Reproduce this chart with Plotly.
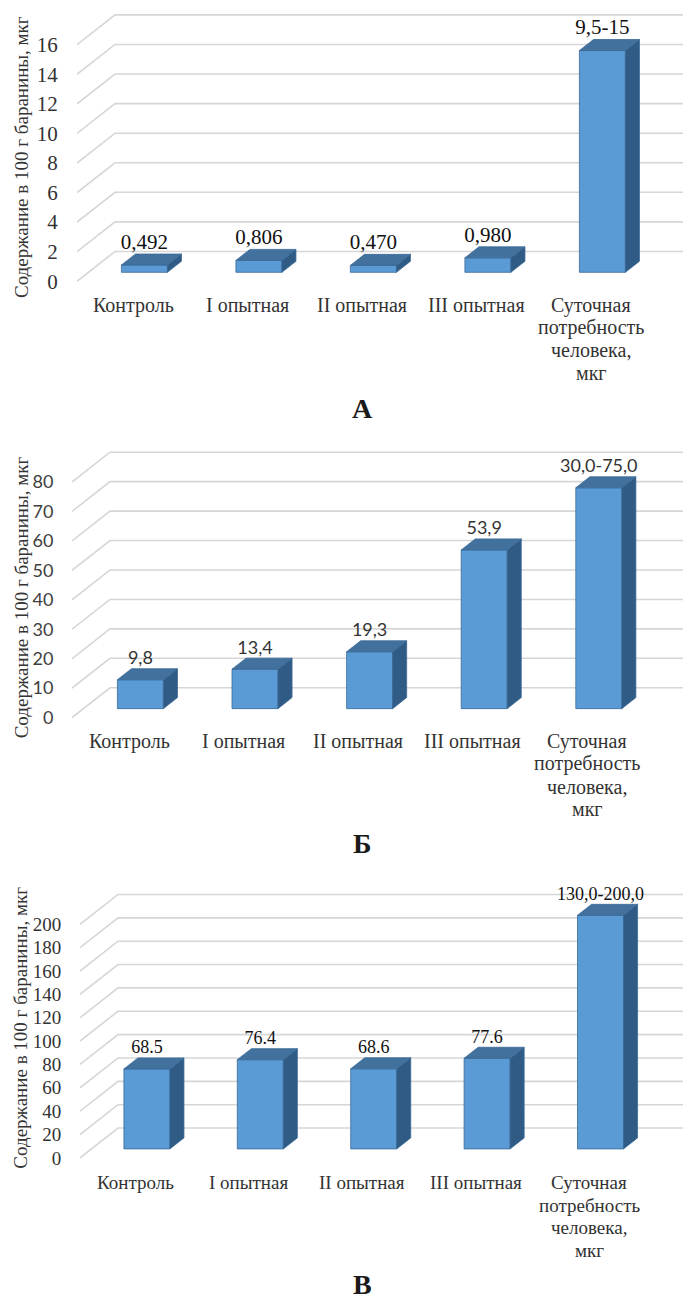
import plotly.graph_objects as go

# ---- data ----
categories = [["Контроль"], ["I опытная"], ["II опытная"], ["III опытная"],
              ["Суточная", "потребность", "человека,", "мкг"]]

values_a = [0.492, 0.806, 0.470, 0.980, 15.0]
labels_a = ["0,492", "0,806", "0,470", "0,980", "9,5-15"]
ticks_a = [0, 2, 4, 6, 8, 10, 12, 14, 16]

values_b = [9.8, 13.4, 19.3, 53.9, 75.0]
labels_b = ["9,8", "13,4", "19,3", "53,9", "30,0-75,0"]
ticks_b = [0, 10, 20, 30, 40, 50, 60, 70, 80]

values_c = [68.5, 76.4, 68.6, 77.6, 200.0]
labels_c = ["68.5", "76.4", "68.6", "77.6", "130,0-200,0"]
ticks_c = [0, 20, 40, 60, 80, 100, 120, 140, 160, 180, 200]

panel_titles = ["А", "Б", "В"]
axis_title = "Содержание в 100 г баранины, мкг"

# ---- page geometry (pixels) ----
W, H = 686, 1306
DEPTH_X, DEPTH_Y = 38, 30          # back wall offset
BAR_FRONT, BAR_BACK = 0.30, 0.67   # bar depth position as fraction of wall depth
BAR_W = 46
GRID_RIGHT = 683
CAT_LINE = 22.7                    # line pitch of category captions

FRONT = "#5B9BD5"
TOP = "#41719C"
SIDE = "#2F5B85"
EDGE = "#3A6A98"
GRID = "#D6D6D6"
SERIF = "Liberation Serif, Times New Roman, serif"
SANS = "Lato, Carlito, Calibri, sans-serif"

panels = [
    dict(values=values_a, labels=labels_a, ticks=ticks_a, y0=283, ytop=45, x_left=77,
         c0=133, sp=114.5, tick_font=dict(family=SERIF, size=21, color="#333333"),
         val_font=dict(family=SERIF, size=21, color="#111111"),
         cat_size=20, cat_dy=24, title_y=411, axis_title_y=158),
    dict(values=values_b, labels=labels_b, ticks=ticks_b, y0=722, ytop=485, x_left=72,
         c0=129, sp=114.6, tick_font=dict(family=SANS, size=18, color="#404040"),
         val_font=dict(family=SANS, size=18, color="#333333"),
         cat_size=20, cat_dy=24, title_y=849, axis_title_y=601),
    dict(values=values_c, labels=labels_c, ticks=ticks_c, y0=1165, ytop=930, x_left=80,
         c0=135.5, sp=113.4, tick_font=dict(family=SERIF, size=19, color="#333333"),
         val_font=dict(family=SERIF, size=18, color="#111111"),
         cat_size=19, cat_dy=25, title_y=1292, axis_title_y=1034),
]

fig = go.Figure()
layout = {}
annotations = []

for k, p in enumerate(panels):
    sfx = "" if k == 0 else str(k + 1)
    xa, ya = "x" + sfx, "y" + sfx
    s = (p["y0"] - p["ytop"]) / p["ticks"][-1]     # px per unit
    sp = p["sp"]
    dx, dy = DEPTH_X / sp, DEPTH_Y / s             # wall depth in data units
    x_lo = (p["x_left"] - p["c0"]) / sp
    x_hi = (W - p["c0"]) / sp
    x_grid_r = (GRID_RIGHT - p["c0"]) / sp
    pad_b, pad_t = 4, 8
    yb_px = p["y0"] + pad_b
    yt_px = p["y0"] - p["ticks"][-1] * s - DEPTH_Y - pad_t
    y_lo = -pad_b / s
    y_hi = (p["y0"] - yt_px) / s

    # gridlines: slanted side-wall segment then the back wall line
    for v in p["ticks"]:
        fig.add_trace(go.Scatter(
            x=[x_lo, x_lo + dx, x_grid_r], y=[v, v + dy, v + dy],
            mode="lines", line=dict(color=GRID, width=1.6),
            hoverinfo="skip", showlegend=False, xaxis=xa, yaxis=ya))

    # 3D bars
    fx, fy = BAR_FRONT * dx, BAR_FRONT * dy
    bx, by = BAR_BACK * dx, BAR_BACK * dy
    hw = BAR_W / 2 / sp
    for i, v in enumerate(p["values"]):
        xl, xr = i - hw + fx, i + hw + fx
        faces = [
            ([xl, xr, xr, xl, xl], [fy, fy, fy + v, fy + v, fy], FRONT),
            ([xr, xr + (bx - fx), xr + (bx - fx), xr, xr],
             [fy, by, by + v, fy + v, fy], SIDE),
            ([xl, xr, xr + (bx - fx), xl + (bx - fx), xl],
             [fy + v, fy + v, by + v, by + v, fy + v], TOP),
        ]
        for fxs, fys, col in faces:
            fig.add_trace(go.Scatter(
                x=fxs, y=fys, mode="lines", fill="toself", fillcolor=col,
                line=dict(color=EDGE, width=0.8), hoverinfo="skip",
                showlegend=False, xaxis=xa, yaxis=ya))
        fig.add_trace(go.Scatter(
            x=[i + fx], y=[v + by], mode="text", text=[p["labels"][i]],
            textposition="top center", textfont=p["val_font"],
            hoverinfo="skip", showlegend=False, xaxis=xa, yaxis=ya, cliponaxis=False))

    # category captions under the front edge, one line each
    for i, lines in enumerate(categories):
        for j, line in enumerate(lines):
            annotations.append(dict(
                text=line, xref=xa, x=i, yref="paper",
                y=1 - (p["y0"] + p["cat_dy"] + j * CAT_LINE) / H,
                xanchor="center", yanchor="middle", showarrow=False,
                font=dict(family=SERIF, size=p["cat_size"], color="#333333")))

    layout["xaxis" + sfx] = dict(
        domain=[p["x_left"] / W, 1], range=[x_lo, x_hi], anchor=ya,
        showticklabels=False, ticks="",
        showgrid=False, zeroline=False, showline=False, fixedrange=True)
    layout["yaxis" + sfx] = dict(
        domain=[1 - yb_px / H, 1 - yt_px / H], range=[y_lo, y_hi], anchor=xa,
        tickmode="array", tickvals=p["ticks"], ticktext=[str(t) for t in p["ticks"]],
        ticks="outside", ticklen=14, tickcolor="rgba(0,0,0,0)", tickfont=p["tick_font"],
        showgrid=False, zeroline=False, showline=False, fixedrange=True)

    annotations.append(dict(
        text=axis_title, textangle=-90, xref="paper", yref="paper",
        x=21 / W, y=1 - p["axis_title_y"] / H, xanchor="center", yanchor="middle",
        showarrow=False, font=dict(family=SERIF, size=19, color="#333333")))
    annotations.append(dict(
        text="<b>" + panel_titles[k] + "</b>", xref="paper", yref="paper",
        x=362 / W, y=1 - p["title_y"] / H, xanchor="center", yanchor="middle",
        showarrow=False, font=dict(family=SERIF, size=28, color="#1a1a1a")))

fig.update_layout(
    width=W, height=H, margin=dict(l=0, r=0, t=0, b=0),
    paper_bgcolor="white", plot_bgcolor="rgba(0,0,0,0)",
    showlegend=False, annotations=annotations, **layout)

fig.write_html("out.html")
